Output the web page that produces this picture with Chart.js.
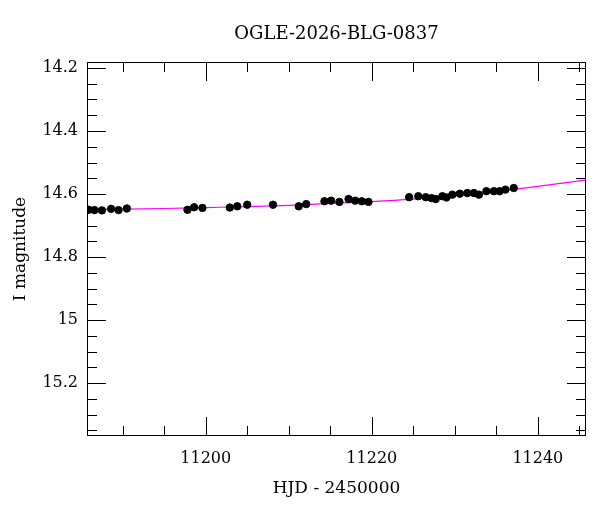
<!DOCTYPE html>
<html>
<head>
<meta charset="utf-8">
<script src="https://cdn.jsdelivr.net/npm/chart.js@4"></script>
<style>
html,body{margin:0;padding:0;background:#fff;}
#wrap{width:600px;height:512px;}
</style>
</head>
<body>
<div id="wrap"><canvas id="c" width="600" height="512"></canvas></div>
<script>
const chartTitle = "OGLE-2026-BLG-0837";
const xTitle = "HJD - 2450000";
const yTitle = "I magnitude";
const xRange = [11185.7, 11245.8];
const yRange = [14.181, 15.368];
const xTickLabels = [11200, 11220, 11240];
const yTickLabels = [14.2, 14.4, 14.6, 14.8, 15, 15.2];

const obsTime = [11185.9, 11186.6, 11187.5, 11188.6, 11189.5, 11190.5,
  11197.8, 11198.6, 11199.6, 11202.9, 11203.8, 11205.0, 11208.1,
  11211.2, 11212.1, 11214.3, 11215.1, 11216.1, 11217.2, 11218.0, 11218.8, 11219.6,
  11224.5, 11225.6, 11226.5, 11227.2, 11227.7, 11228.5, 11229.0, 11229.7, 11230.6,
  11231.5, 11232.3, 11232.9, 11233.8, 11234.7, 11235.4, 11236.1, 11237.1];
const obsMag = [14.650, 14.651, 14.652, 14.647, 14.651, 14.646,
  14.650, 14.642, 14.644, 14.643, 14.639, 14.634, 14.634,
  14.639, 14.632, 14.623, 14.621, 14.625, 14.616, 14.621, 14.623, 14.625,
  14.610, 14.607, 14.610, 14.613, 14.616, 14.607, 14.611, 14.602, 14.599,
  14.597, 14.597, 14.602, 14.591, 14.591, 14.591, 14.586, 14.581];
const obsErr = [0.005, 0.005, 0.005, 0.005, 0.005, 0.005,
  0.005, 0.005, 0.005, 0.005, 0.005, 0.008, 0.005,
  0.005, 0.005, 0.005, 0.005, 0.005, 0.005, 0.005, 0.005, 0.005,
  0.005, 0.005, 0.005, 0.005, 0.005, 0.005, 0.005, 0.005, 0.005,
  0.005, 0.005, 0.005, 0.005, 0.005, 0.005, 0.005, 0.005];

const modelTime = [11185.7, 11190, 11195, 11200, 11205, 11210, 11215, 11220, 11225, 11230, 11235, 11240, 11245.8];
const modelMag = [14.649, 14.648, 14.646, 14.643, 14.640, 14.636, 14.630, 14.624, 14.616, 14.605, 14.592, 14.576, 14.555];

const obsPoints = obsTime.map((t, i) => ({x: t, y: obsMag[i], e: obsErr[i]}));
const modelPoints = modelTime.map((t, i) => ({x: t, y: modelMag[i]}));

const FONT = "'DejaVu Serif', serif";

const frameTicks = {
  id: 'frameTicks',
  afterDatasetsDraw(chart) {
    const ctx = chart.ctx, a = chart.chartArea;
    const xs = chart.scales.x, ys = chart.scales.y;
    ctx.save();
    ctx.strokeStyle = '#000';
    ctx.lineWidth = 1;
    ctx.strokeRect(Math.round(a.left) + 0.5, Math.round(a.top) + 0.5, Math.round(a.right - a.left) - 1, Math.round(a.bottom - a.top) - 1);
    ctx.beginPath();
    xs.ticks.forEach(tk => {
      const px = Math.round(xs.getPixelForValue(tk.value)) + 0.5;
      const major = Math.abs(tk.value / 20 - Math.round(tk.value / 20)) < 1e-6;
      const L = major ? 19 : 10;
      ctx.moveTo(px, a.bottom); ctx.lineTo(px, a.bottom - L);
      ctx.moveTo(px, a.top); ctx.lineTo(px, a.top + L);
    });
    ys.ticks.forEach(tk => {
      const py = Math.round(ys.getPixelForValue(tk.value)) + 0.5;
      const major = Math.abs(tk.value / 0.2 - Math.round(tk.value / 0.2)) < 1e-6;
      const L = major ? 19 : 10;
      ctx.moveTo(a.left, py); ctx.lineTo(a.left + L, py);
      ctx.moveTo(a.right, py); ctx.lineTo(a.right - L, py);
    });
    ctx.stroke();
    ctx.restore();
  }
};

const errorBars = {
  id: 'errorBars',
  beforeDatasetDraw(chart, args) {
    if (args.index !== 1) return;
    const ctx = chart.ctx, xs = chart.scales.x, ys = chart.scales.y;
    ctx.save();
    ctx.strokeStyle = '#000';
    ctx.lineWidth = 1.5;
    ctx.beginPath();
    chart.data.datasets[1].data.forEach(p => {
      const px = xs.getPixelForValue(p.x);
      ctx.moveTo(px, ys.getPixelForValue(p.y - p.e));
      ctx.lineTo(px, ys.getPixelForValue(p.y + p.e));
    });
    ctx.stroke();
    ctx.restore();
  }
};

new Chart(document.getElementById('c'), {
  type: 'scatter',
  data: {
    datasets: [
      {
        type: 'line',
        label: 'model',
        data: modelPoints,
        borderColor: '#ff00ff',
        borderWidth: 1.2,
        pointRadius: 0,
        tension: 0.4,
        cubicInterpolationMode: 'monotone',
        fill: false,
        order: 2
      },
      {
        label: 'OGLE',
        data: obsPoints,
        backgroundColor: '#000',
        borderColor: '#000',
        pointRadius: 3.7,
        pointHoverRadius: 3.7,
        order: 1
      }
    ]
  },
  options: {
    responsive: false,
    animation: false,
    devicePixelRatio: 1,
    layout: {padding: {left: 0, right: 14, top: 0, bottom: 0}},
    plugins: {
      legend: {display: false},
      tooltip: {enabled: false},
      title: {
        display: true,
        text: chartTitle,
        fullSize: false,
        color: '#000',
        font: {family: FONT, size: 18, weight: 'normal', lineHeight: 1.2},
        padding: {top: 24, bottom: 16.4}
      }
    },
    scales: {
      x: {
        type: 'linear',
        position: 'bottom',
        min: xRange[0],
        max: xRange[1],
        afterBuildTicks(s) {
          const t = [];
          for (let v = 11190; v <= 11245; v += 5) t.push({value: v});
          s.ticks = t;
        },
        afterFit(s) { s.height = 76; },
        grid: {display: false, drawTicks: false},
        border: {display: false},
        ticks: {
          color: '#000',
          font: {family: FONT, size: 16},
          padding: 13,
          maxRotation: 0,
          autoSkip: false,
          callback: v => xTickLabels.includes(v) ? String(v) : ''
        },
        title: {
          display: true,
          text: xTitle,
          color: '#000',
          font: {family: FONT, size: 17},
          padding: {top: 13, bottom: 13}
        }
      },
      y: {
        type: 'linear',
        position: 'left',
        reverse: true,
        min: yRange[0],
        max: yRange[1],
        afterBuildTicks(s) {
          const t = [];
          for (let k = 0; k <= 23; k++) t.push({value: Math.round((14.2 + k * 0.05) * 1000) / 1000});
          s.ticks = t;
        },
        afterFit(s) { s.width = 87; },
        grid: {display: false, drawTicks: false},
        border: {display: false},
        ticks: {
          color: '#000',
          font: {family: FONT, size: 16},
          padding: 9,
          autoSkip: false,
          callback: v => {
            const m = yTickLabels.find(l => Math.abs(l - v) < 1e-6);
            return m === undefined ? '' : String(m);
          }
        },
        title: {
          display: true,
          text: yTitle,
          color: '#000',
          font: {family: FONT, size: 17},
          padding: {top: 10, bottom: 10}
        }
      }
    }
  },
  plugins: [errorBars, frameTicks]
});
</script>
</body>
</html>
